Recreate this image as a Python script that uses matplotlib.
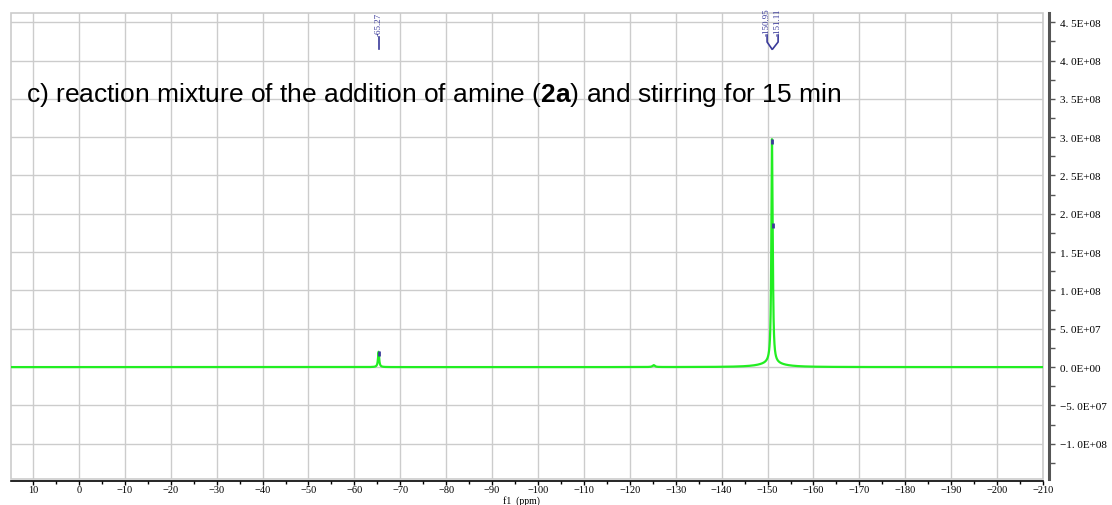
import numpy as np
import matplotlib.pyplot as plt
from matplotlib.ticker import MultipleLocator, FuncFormatter
from matplotlib.patches import Rectangle

plt.rcParams['font.family'] = ['Liberation Serif', 'DejaVu Serif']
plt.rcParams['mathtext.fontset'] = 'custom'
plt.rcParams['mathtext.rm'] = 'Liberation Sans'
plt.rcParams['mathtext.bf'] = 'Liberation Sans:bold'

# peaks: shift (ppm), height, half width (ppm)
peak_shift = [-65.27, -150.95, -151.11, -150.9, -125.2]
peak_height = [2.0e7, 2.64e8, 0.59e8, 5.0e6, 2.5e6]
peak_hwhm = [0.15, 0.15, 0.15, 3.0, 0.3]

# peak labels on top
label_text = ['-65.27', '-150.95', '-151.11']
label_x = [-65.27, -149.9, -152.3]
label_peak = [-65.27, -150.95, -151.11]

title = r"c) reaction mixture of the addition of amine ($\mathbf{2a}$) and stirring for 15 min"

ppm = np.linspace(14.8, -210, 30000)
intensity = np.zeros_like(ppm)
for s, h, w in zip(peak_shift, peak_height, peak_hwhm):
    intensity += h / (1 + ((ppm - s) / w) ** 2)

W, H = 1112, 506
fig = plt.figure(figsize=(W / 100, H / 100), dpi=100)
ax = fig.add_axes([11 / W, 26 / H, 1032 / W, 466 / H])

ax.plot(ppm, intensity, color='#22ee22', lw=1.6, zorder=3)

# blue peak markers at the tops
blue = '#3a3a9a'
for p in label_peak:
    y = np.interp(-p, -ppm, intensity)
    ax.vlines(p, y - 6e6, y + 1e6, color=blue, lw=2, zorder=4)

ax.set_xlim(14.8, -210)
ax.set_ylim(-1.46e8, 4.62e8)

ax.xaxis.set_major_locator(MultipleLocator(10))
ax.xaxis.set_minor_locator(MultipleLocator(5))
ax.yaxis.set_major_locator(MultipleLocator(5e7))
ax.yaxis.set_minor_locator(MultipleLocator(2.5e7))


def sci(v, pos):
    if abs(v) < 1:
        return '0. 0E+00'
    e = int(np.floor(np.log10(abs(v))))
    m = v / 10 ** e
    s = '%.1f' % abs(m)
    txt = s.replace('.', '. ') + 'E+%02d' % e
    return ('\u2212' if v < 0 else '') + txt


ax.yaxis.set_major_formatter(FuncFormatter(sci))
ax.yaxis.tick_right()
ax.grid(True, which='major', color='#cccccc', lw=1, zorder=0)

for side in ['top', 'left']:
    ax.spines[side].set_visible(False)
ax.spines['right'].set_position(('outward', 4))
ax.spines['right'].set_color('#555555')
ax.spines['right'].set_linewidth(2.2)
ax.spines['bottom'].set_position(('outward', 1.5))
ax.spines['bottom'].set_linewidth(1.2)

ax.add_patch(Rectangle((0, 0), 1, 1, transform=ax.transAxes, fill=False,
                       ec='#cccccc', lw=1.2, zorder=1, clip_on=False))

ax.tick_params(axis='x', which='major', length=3, width=1, pad=0, labelsize=7.5)
ax.tick_params(axis='x', which='minor', length=2, width=1)
ax.tick_params(axis='y', which='major', length=4, width=1, pad=4, labelsize=8,
               color='#555555')
ax.tick_params(axis='y', which='minor', length=4, width=1, color='#555555')

fig.text(521 / W, 0, 'f1  (ppm)', ha='center', va='bottom', fontsize=7)

fig.text(26 / W, 1 - 102 / H, title, family='Liberation Sans', fontsize=19,
         ha='left', va='baseline')

# peak labels and connector lines (y in axes fraction)
tr = ax.get_xaxis_transform()
for t, lx, p in zip(label_text, label_x, label_peak):
    ax.text(lx, (480 - 36) / 466, t, transform=tr, rotation=90,
            ha='center', va='bottom', fontsize=6.5, color=blue, clip_on=False)
    if lx == p:
        ax.plot([lx, lx], [(480 - 38) / 466, (480 - 50) / 466], transform=tr,
                color=blue, lw=1.2, clip_on=False)
    else:
        ax.plot([lx, lx, p], [(480 - 36) / 466, (480 - 43) / 466, (480 - 50) / 466],
                transform=tr, color=blue, lw=1.2, clip_on=False)

fig.savefig('out.png', dpi=100)
